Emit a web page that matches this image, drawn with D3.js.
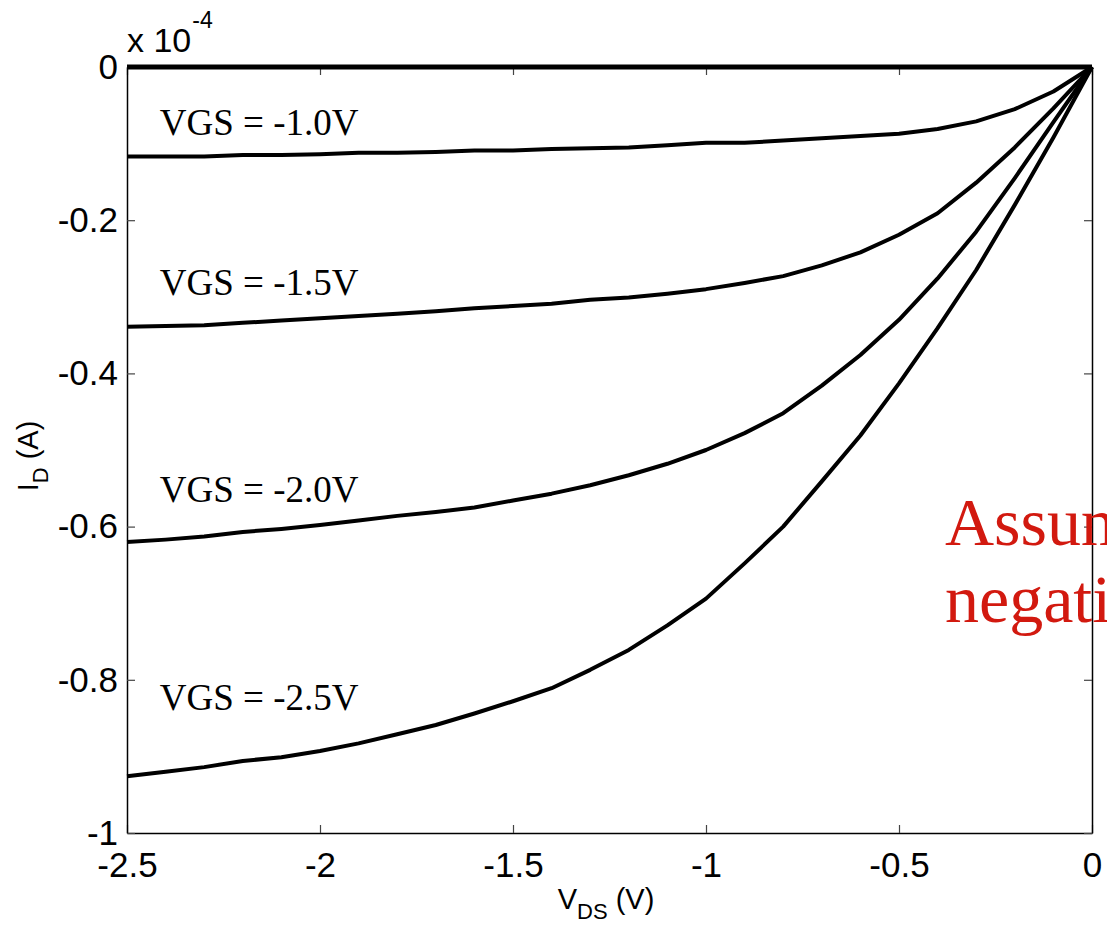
<!DOCTYPE html>
<html>
<head>
<meta charset="utf-8">
<script src="https://cdn.jsdelivr.net/npm/d3@7"></script>
<style>
  body { margin: 0; background: #fff; }
  svg { display: block; }
</style>
</head>
<body>
<div id="chart"></div>
<script>
  // Drain voltage samples (V)
  const vds = [-2.5, -2.4, -2.3, -2.2, -2.1, -2.0, -1.9, -1.8, -1.7, -1.6, -1.5, -1.4, -1.3,
               -1.2, -1.1, -1.0, -0.9, -0.8, -0.7, -0.6, -0.5, -0.4, -0.3, -0.2, -0.1, 0];

  // Drain current, in units of 1e-4 A, one array per gate voltage
  const idVgs0 = [0, 0, 0, 0, 0, 0, 0, 0, 0, 0, 0, 0, 0, 0, 0, 0, 0, 0, 0, 0, 0, 0, 0, 0, 0, 0];
  const idVgs10 = [-0.117, -0.117, -0.117, -0.115, -0.115, -0.114, -0.112, -0.112, -0.111, -0.109,
                   -0.109, -0.107, -0.106, -0.105, -0.102, -0.099, -0.099, -0.096, -0.093, -0.090,
                   -0.087, -0.081, -0.071, -0.055, -0.032, 0];
  const idVgs15 = [-0.339, -0.338, -0.337, -0.334, -0.331, -0.328, -0.325, -0.322, -0.319, -0.315,
                   -0.312, -0.309, -0.304, -0.301, -0.296, -0.290, -0.282, -0.273, -0.259, -0.242,
                   -0.219, -0.191, -0.151, -0.105, -0.054, 0];
  const idVgs20 = [-0.620, -0.617, -0.613, -0.607, -0.603, -0.598, -0.592, -0.586, -0.581, -0.575,
                   -0.566, -0.557, -0.546, -0.533, -0.518, -0.500, -0.478, -0.452, -0.416, -0.376,
                   -0.330, -0.276, -0.215, -0.145, -0.072, 0];
  const idVgs25 = [-0.926, -0.920, -0.914, -0.906, -0.901, -0.893, -0.883, -0.871, -0.859, -0.844,
                   -0.828, -0.811, -0.787, -0.761, -0.729, -0.694, -0.648, -0.600, -0.541, -0.481,
                   -0.413, -0.341, -0.265, -0.180, -0.092, 0];

  const curveLabels = ["VGS = -1.0V", "VGS = -1.5V", "VGS = -2.0V", "VGS = -2.5V"];
  const xTicks = [-2.5, -2, -1.5, -1, -0.5, 0];
  const yTicks = [0, -0.2, -0.4, -0.6, -0.8, -1];
  const noteLines = ["Assuming", "negative"];

  const series = [idVgs0, idVgs10, idVgs15, idVgs20, idVgs25];

  // Chart dimensions
  const width = 1107;
  const height = 932;
  const margin = { top: 67, right: 15, bottom: 99, left: 127 };
  const plotW = width - margin.left - margin.right;
  const plotH = height - margin.top - margin.bottom;
  const sans = "'Liberation Sans', Arial, sans-serif";
  const serif = "'Liberation Serif', 'Times New Roman', serif";

  const svg = d3.select("#chart")
    .append("svg")
    .attr("width", width)
    .attr("height", height)
    .style("background", "#fff");

  const x = d3.scaleLinear().domain([-2.5, 0]).range([0, plotW]);
  const y = d3.scaleLinear().domain([-1, 0]).range([plotH, 0]);

  const g = svg.append("g")
    .attr("transform", `translate(${margin.left},${margin.top})`);

  // Axes (MATLAB style box with inward ticks)
  const styleAxis = sel => {
    sel.select(".domain").attr("stroke", "#000").attr("stroke-width", 1.5);
    sel.selectAll(".tick line").attr("stroke", "#444").attr("stroke-width", 1.2);
    sel.selectAll(".tick text")
      .attr("fill", "#000")
      .attr("font-family", sans)
      .attr("font-size", "35px");
  };
  const fmt = d => d3.format("")(d).replace("−", "-");

  g.append("g")
    .attr("transform", `translate(0,${plotH})`)
    .call(d3.axisBottom(x).tickValues(xTicks).tickSizeInner(-8).tickSizeOuter(0)
      .tickPadding(19).tickFormat(fmt))
    .call(styleAxis);

  g.append("g")
    .call(d3.axisTop(x).tickValues(xTicks).tickSizeInner(-8).tickSizeOuter(0).tickFormat(""))
    .call(styleAxis);

  g.append("g")
    .call(d3.axisLeft(y).tickValues(yTicks).tickSizeInner(-8).tickSizeOuter(0)
      .tickPadding(9).tickFormat(fmt))
    .call(styleAxis);

  g.append("g")
    .attr("transform", `translate(${plotW},0)`)
    .call(d3.axisRight(y).tickValues(yTicks).tickSizeInner(-8).tickSizeOuter(0).tickFormat(""))
    .call(styleAxis);

  // Curves
  const line = d3.line()
    .x((d, i) => x(vds[i]))
    .y(d => y(d));

  g.selectAll(".curve")
    .data(series)
    .enter()
    .append("path")
    .attr("class", "curve")
    .attr("d", line)
    .attr("fill", "none")
    .attr("stroke", "#000")
    .attr("stroke-width", (d, i) => i === 0 ? 5 : 4)
    .attr("stroke-linejoin", "round");

  // Curve labels
  const labelAt = [[-2.415, -0.089], [-2.415, -0.298], [-2.415, -0.568], [-2.415, -0.839]];
  curveLabels.forEach((t, i) => {
    g.append("text")
      .attr("x", x(labelAt[i][0]))
      .attr("y", y(labelAt[i][1]))
      .attr("font-family", serif)
      .attr("font-size", "37px")
      .attr("fill", "#000")
      .text(t);
  });

  // Exponent label
  const expo = svg.append("text")
    .attr("x", 127)
    .attr("y", 52)
    .attr("font-family", sans)
    .attr("font-size", "34px")
    .attr("fill", "#000");
  expo.append("tspan").text("x 10");
  expo.append("tspan").attr("font-size", "23px").attr("dy", -24).attr("dx", 1).text("-4");

  // Axis titles
  const xt = svg.append("text")
    .attr("x", 606)
    .attr("y", 909)
    .attr("text-anchor", "middle")
    .attr("font-family", sans)
    .attr("font-size", "29px")
    .attr("fill", "#000");
  xt.append("tspan").text("V");
  xt.append("tspan").attr("font-size", "22px").attr("dy", 10).text("DS");
  xt.append("tspan").attr("dy", -10).text(" (V)");

  const yt = svg.append("text")
    .attr("transform", "translate(38,456) rotate(-90)")
    .attr("text-anchor", "middle")
    .attr("font-family", sans)
    .attr("font-size", "29px")
    .attr("fill", "#000");
  yt.append("tspan").text("I");
  yt.append("tspan").attr("font-size", "22px").attr("dy", 10).text("D");
  yt.append("tspan").attr("dy", -10).text(" (A)");

  // Red overlay note (cut off at the right edge, as in the source)
  noteLines.forEach((t, i) => {
    svg.append("text")
      .attr("x", 945)
      .attr("y", 545 + i * 77)
      .attr("font-family", serif)
      .attr("font-size", "68px")
      .attr("fill", "#d2190f")
      .text(t);
  });
</script>
</body>
</html>
